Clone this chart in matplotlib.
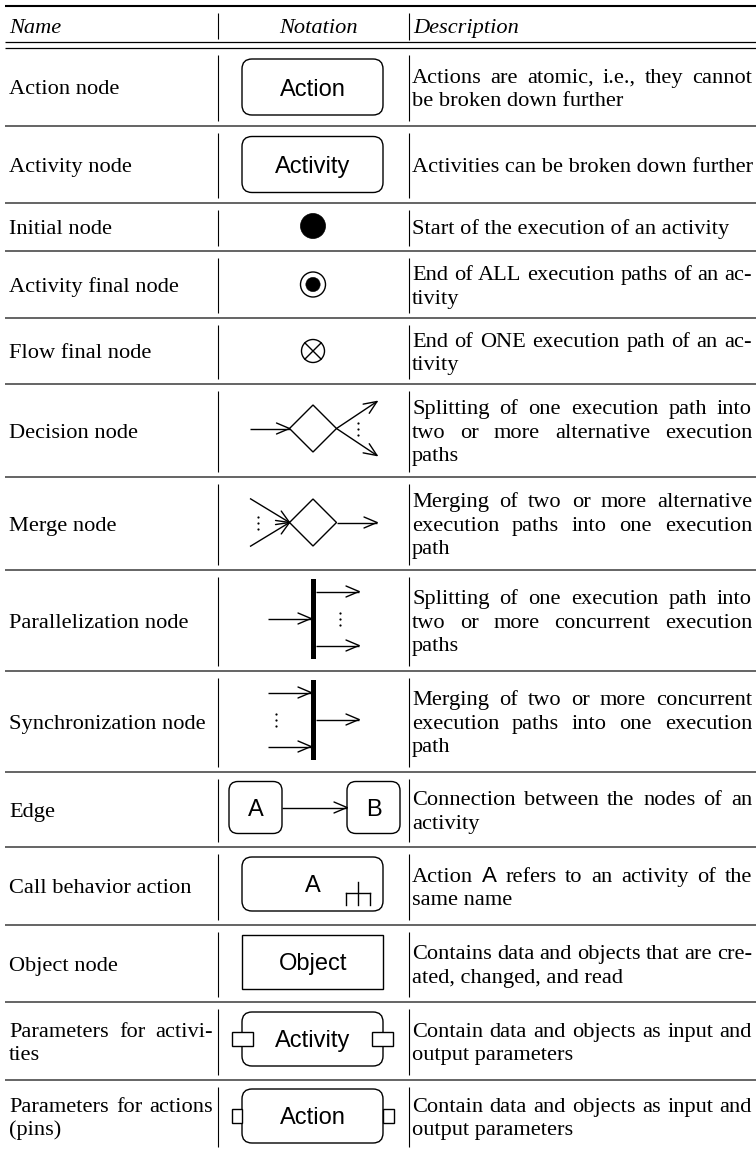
import numpy as np
import matplotlib
matplotlib.use("Agg")
import matplotlib.pyplot as plt
from matplotlib.patches import FancyBboxPatch, Rectangle, Circle, Polygon

# ---------------- data ----------------
header = ["Name", "Notation", "Description"]

names = [
    ["Action node"],
    ["Activity node"],
    ["Initial node"],
    ["Activity final node"],
    ["Flow final node"],
    ["Decision node"],
    ["Merge node"],
    ["Parallelization node"],
    ["Synchronization node"],
    ["Edge"],
    ["Call behavior action"],
    ["Object node"],
    ["Parameters for activi-", "ties"],
    ["Parameters for actions", "(pins)"],
]

notations = ["action", "activity", "initial", "activity_final", "flow_final",
             "decision", "merge", "fork", "join", "edge", "call", "object",
             "param_activity", "param_action"]

notation_labels = ["Action", "Activity", "", "", "", "", "", "", "",
                   "A|B", "A", "Object", "Activity", "Action"]

descriptions = [
    ["Actions are atomic, i.e., they cannot", "be broken down further"],
    ["Activities can be broken down further"],
    ["Start of the execution of an activity"],
    ["End of ALL execution paths of an ac-", "tivity"],
    ["End of ONE execution path of an ac-", "tivity"],
    ["Splitting of one execution path into", "two or more alternative execution", "paths"],
    ["Merging of two or more alternative", "execution paths into one execution", "path"],
    ["Splitting of one execution path into", "two or more concurrent execution", "paths"],
    ["Merging of two or more concurrent", "execution paths into one execution", "path"],
    ["Connection between the nodes of an", "activity"],
    ["Action A refers to an activity of the", "same name"],
    ["Contains data and objects that are cre-", "ated, changed, and read"],
    ["Contain data and objects as input and", "output parameters"],
    ["Contain data and objects as input and", "output parameters"],
]

# ---------------- layout ----------------
W, H, DPI = 756, 1154, 100
row_heights = [78, 77, 48, 67, 66, 93, 93, 101, 101, 75, 78, 77, 78, 72]
TABLE_TOP = 48
COL1, COL2 = 218, 409
NAME_X0, NAME_X1 = 9, 213
DESC_X0, DESC_X1 = 412, 752
CX = 313
FS = 16.1          # serif size (pt)
SFS = 17           # sans size in notation (pt)
LINE = 23.5
LW = 1.0

SERIF = ["Liberation Serif", "DejaVu Serif"]
SANS = ["Liberation Sans", "DejaVu Sans"]

fig = plt.figure(figsize=(W / DPI, H / DPI), dpi=DPI)
ax = fig.add_axes([0, 0, 1, 1])
ax.set_xlim(0, W)
ax.set_ylim(H, 0)
ax.axis("off")
R = fig.canvas.get_renderer()

fs_px = FS * DPI / 72.0
sfs_px = SFS * DPI / 72.0


def hline(y, lw, color="k", x0=5, x1=W):
    ax.plot([x0, x1], [y, y], color=color, lw=lw, solid_capstyle="butt")


def vline(x, y0, y1, lw=0.8):
    ax.plot([x, x], [y0, y1], color="k", lw=lw, solid_capstyle="butt")


def put_line(x0, x1, center, text, justify, family=SERIF, style="normal"):
    base = center + 0.33 * fs_px
    words = text.split(" ")
    if not justify and "A" not in words:
        ax.text(x0, base, text, fontsize=FS, family=family, style=style,
                ha="left", va="baseline")
        return
    arts = [ax.text(0, base, w, fontsize=FS,
                    family=(SANS if w == "A" else family), style=style,
                    ha="left", va="baseline") for w in words]
    widths = [a.get_window_extent(renderer=R).width for a in arts]
    if justify and len(words) > 1:
        gap = (x1 - x0 - sum(widths)) / (len(words) - 1)
    else:
        gap = 0.27 * fs_px
    x = x0
    for a, w in zip(arts, widths):
        a.set_x(x)
        x += w + gap


def put_lines(x0, x1, cy, lines):
    n = len(lines)
    for i, ln in enumerate(lines):
        c = cy + (i - (n - 1) / 2.0) * LINE
        put_line(x0, x1, c, ln, justify=(i < n - 1))


def sans_label(x, cy, s):
    ax.text(x, cy + 0.36 * sfs_px, s, fontsize=SFS, family=SANS,
            ha="center", va="baseline", zorder=5)


def arrow(x0, y0, x1, y1, hl=13, hw=5.5):
    ax.plot([x0, x1], [y0, y1], color="k", lw=LW, solid_capstyle="butt")
    d = np.array([x1 - x0, y1 - y0], dtype=float)
    d /= np.hypot(*d)
    n = np.array([-d[1], d[0]])
    tip = np.array([x1, y1], dtype=float)
    b = tip - d * hl
    for s in (1, -1):
        p = b + s * n * hw
        ax.plot([p[0], tip[0]], [p[1], tip[1]], color="k", lw=LW,
                solid_capstyle="round")


def rbox(x0, y0, w, h, r=10, z=2):
    ax.add_patch(FancyBboxPatch((x0, y0), w, h,
                                boxstyle=f"round,pad=0,rounding_size={r}",
                                fc="white", ec="k", lw=LW, zorder=z))


def dots(x, cy, sp=6):
    ax.plot([x, x, x], [cy - sp, cy, cy + sp], "o", color="k", ms=1.6,
            mew=0, zorder=4)


def diamond(cx, cy, r=23.5):
    ax.add_patch(Polygon([(cx - r, cy), (cx, cy - r), (cx + r, cy), (cx, cy + r)],
                         closed=True, fc="white", ec="k", lw=LW, zorder=3))


def draw_notation(kind, label, cy):
    bw, bh = 141, 54
    bx = CX - bw / 2.0 - 0.5
    if kind in ("action", "activity"):
        rbox(bx, cy - bh / 2 - 1, bw, bh + 2)
        sans_label(CX, cy, label)
    elif kind == "initial":
        ax.add_patch(Circle((CX, cy - 1), 12.5, fc="k", ec="k", lw=0.5))
    elif kind == "activity_final":
        ax.add_patch(Circle((CX, cy), 12.5, fc="white", ec="k", lw=LW))
        ax.add_patch(Circle((CX, cy), 7.2, fc="k", ec="k", lw=0.3))
    elif kind == "flow_final":
        r = 11.5
        ax.add_patch(Circle((CX, cy), r, fc="white", ec="k", lw=LW))
        k = r * np.cos(np.pi / 4)
        ax.plot([CX - k, CX + k], [cy - k, cy + k], color="k", lw=LW)
        ax.plot([CX - k, CX + k], [cy + k, cy - k], color="k", lw=LW)
    elif kind == "decision":
        cy = cy - 2
        arrow(250, cy, CX - 23.5, cy)
        diamond(CX, cy)
        arrow(CX + 23.5, cy, 377, cy - 27)
        arrow(CX + 23.5, cy, 377, cy + 27)
        dots(358, cy)
    elif kind == "merge":
        cy = cy - 1
        arrow(250, cy - 24, CX - 23.5, cy)
        arrow(250, cy + 24, CX - 23.5, cy)
        diamond(CX, cy)
        arrow(CX + 23.5, cy, 377, cy)
        dots(258, cy)
    elif kind == "fork":
        cy = cy - 2
        ax.add_patch(Rectangle((CX - 2, cy - 40), 4.5, 80, fc="k", ec="none"))
        arrow(268, cy, CX - 2, cy)
        arrow(CX + 2.5, cy - 27, 359, cy - 27)
        arrow(CX + 2.5, cy + 27, 359, cy + 27)
        dots(340, cy)
    elif kind == "join":
        cy = cy - 2
        ax.add_patch(Rectangle((CX - 2, cy - 40), 4.5, 80, fc="k", ec="none"))
        arrow(268, cy - 27, CX - 2, cy - 27)
        arrow(268, cy + 27, CX - 2, cy + 27)
        arrow(CX + 2.5, cy, 359, cy)
        dots(276, cy)
    elif kind == "edge":
        a, b = label.split("|")
        cy = cy - 2
        rbox(229, cy - 26, 53, 52, r=9)
        rbox(347, cy - 26, 53, 52, r=9)
        arrow(282, cy, 347, cy)
        sans_label(255.5, cy, a)
        sans_label(373.5, cy, b)
    elif kind == "call":
        cy = cy - 2
        rbox(bx, cy - 27, bw, 54)
        sans_label(CX, cy - 1, label)
        ax.plot([346, 370], [cy + 9, cy + 9], color="k", lw=LW)
        for xx in (346, 370):
            ax.plot([xx, xx], [cy + 9, cy + 21], color="k", lw=LW)
        ax.plot([358, 358], [cy - 2, cy + 21], color="k", lw=LW)
    elif kind == "object":
        cy = cy - 2
        ax.add_patch(Rectangle((bx, cy - 27), bw, 54, fc="white", ec="k", lw=LW))
        sans_label(CX, cy, label)
    elif kind == "param_activity":
        cy = cy - 2
        rbox(bx, cy - 27, bw, 54)
        for px in (bx - 10, bx + bw - 11):
            ax.add_patch(Rectangle((px, cy - 7), 21, 14, fc="white", ec="k",
                                   lw=LW, zorder=4))
        sans_label(CX, cy, label)
    elif kind == "param_action":
        rbox(bx, cy - 27, bw, 54)
        ax.add_patch(Rectangle((bx - 10.5, cy - 7), 10.5, 14, fc="white",
                               ec="k", lw=LW, zorder=4))
        ax.add_patch(Rectangle((bx + bw, cy - 7), 10.5, 14, fc="white",
                               ec="k", lw=LW, zorder=4))
        sans_label(CX, cy, label)


# ---------------- header ----------------
hline(6, 1.5)
hline(42, 0.9)
hline(48, 0.9)
vline(COL1, 13, 39)
vline(COL2, 13, 40)
hc = 26
put_line(NAME_X0, NAME_X1, hc, header[0], False, style="italic")
t = ax.text(318, hc + 0.33 * fs_px, header[1], fontsize=FS, family=SERIF,
            style="italic", ha="center", va="baseline")
put_line(DESC_X0 + 1, DESC_X1, hc, header[2], False, style="italic")

# ---------------- rows ----------------
edges = TABLE_TOP + np.concatenate([[0], np.cumsum(row_heights)])
for i in range(len(names)):
    top, bot = edges[i], edges[i + 1]
    cy = (top + bot) / 2.0
    if i < len(names) - 1:
        hline(bot, 1.1, color="#3a3a3a")
    vline(COL1, top + 7, bot - 5)
    vline(COL2, top + 7, bot - 5)
    put_lines(NAME_X0, NAME_X1, cy, names[i])
    put_lines(DESC_X0, DESC_X1, cy, descriptions[i])
    draw_notation(notations[i], notation_labels[i], cy)

fig.savefig("out.png", dpi=DPI)
